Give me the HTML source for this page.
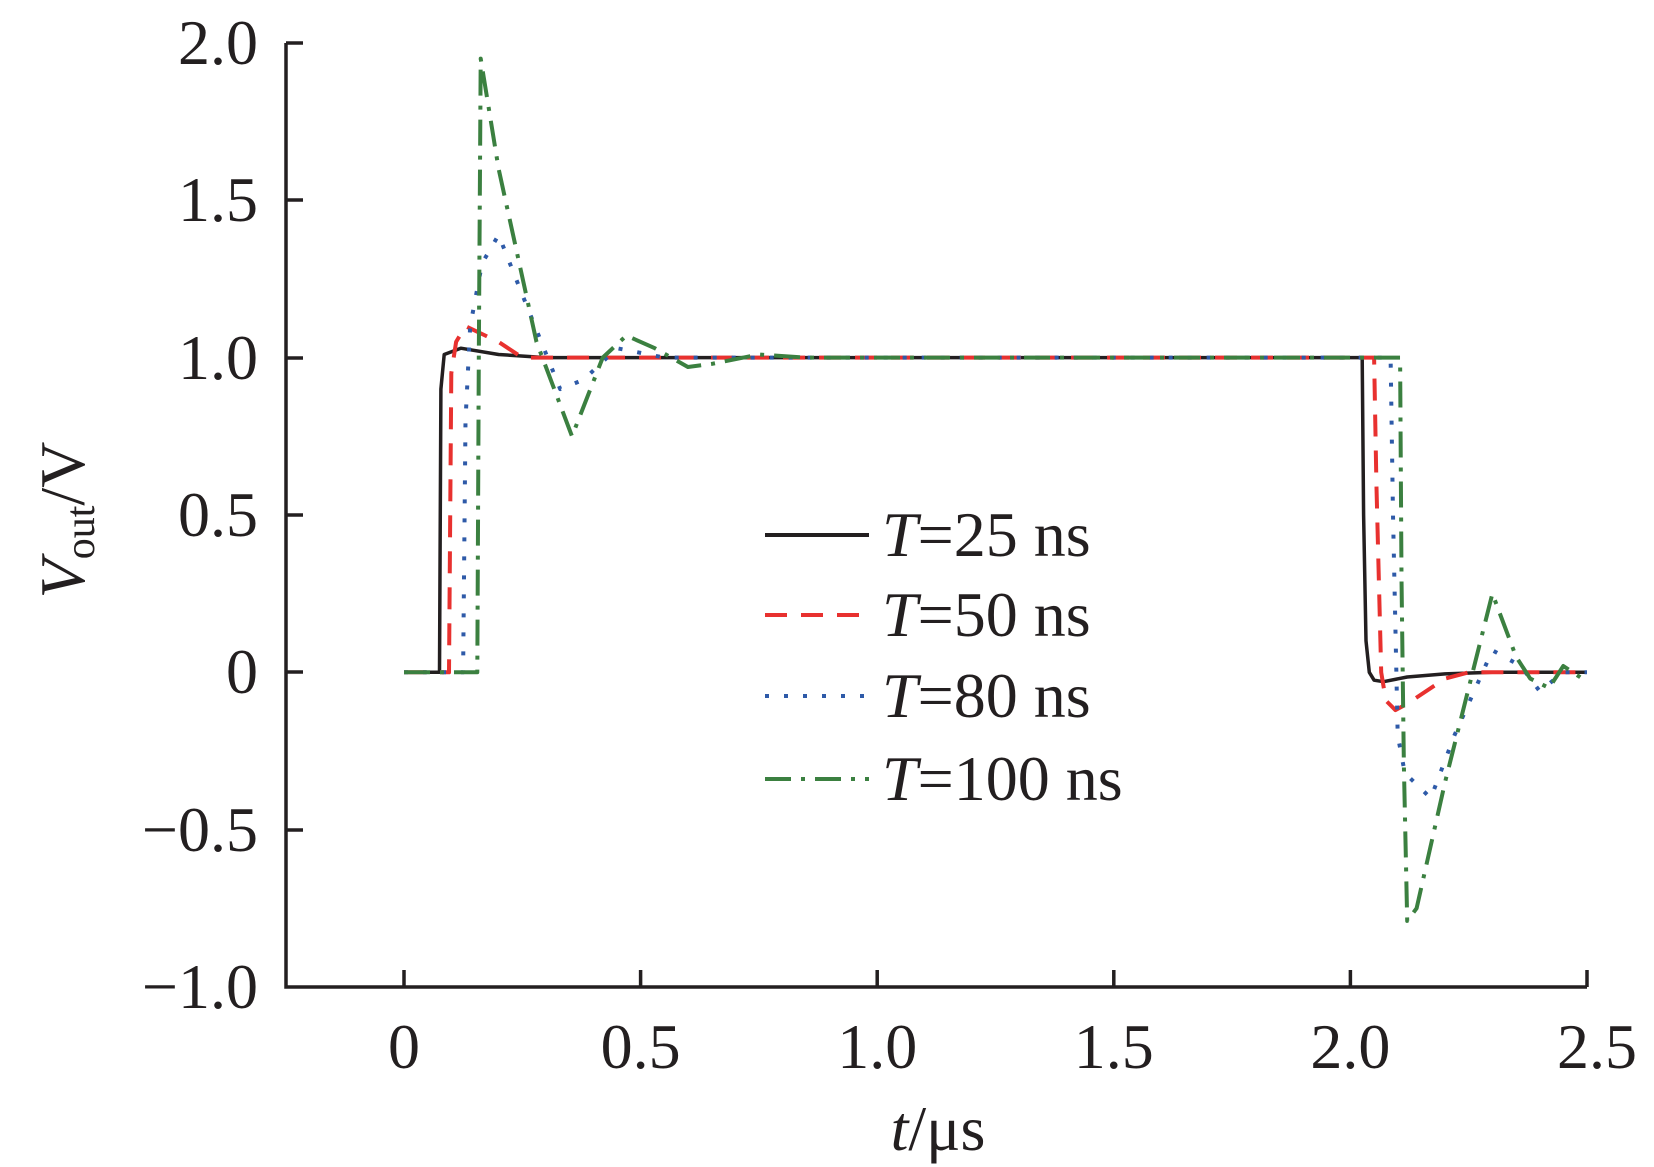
<!DOCTYPE html>
<html><head><meta charset="utf-8"><style>
html,body{margin:0;padding:0;background:#fff;}
svg{display:block;}
text{font-family:"Liberation Serif",serif;fill:#231f20;}
</style></head><body>
<svg id="s" width="1654" height="1167" viewBox="0 0 1654 1167" xmlns="http://www.w3.org/2000/svg">
<g stroke="#231f20" stroke-width="3.5" fill="none">
<path d="M286,43 V987 H1587"/>
<path d="M286,43 H303 M286,200 H303 M286,358 H303 M286,515 H303 M286,672 H303 M286,830 H303"/>
<path d="M404,987 V970 M640.6,987 V970 M877.2,987 V970 M1113.8,987 V970 M1350.4,987 V970 M1587,987 V970"/>
</g>
<g font-size="64" text-anchor="end">
<text x="258" y="64">2.0</text>
<text x="258" y="221">1.5</text>
<text x="258" y="379">1.0</text>
<text x="258" y="536">0.5</text>
<text x="258" y="693">0</text>
<text x="258" y="851">−0.5</text>
<text x="258" y="1008">−1.0</text>
</g>
<g font-size="64" text-anchor="middle">
<text x="404" y="1068">0</text>
<text x="640.6" y="1068">0.5</text>
<text x="877.2" y="1068">1.0</text>
<text x="1113.8" y="1068">1.5</text>
<text x="1350.4" y="1068">2.0</text>
<text x="1597" y="1068">2.5</text>
</g>
<text x="938" y="1150" font-size="64" text-anchor="middle"><tspan font-style="italic">t</tspan>/μs</text>
<text transform="translate(84,520) rotate(-90)" font-size="64" text-anchor="middle"><tspan font-style="italic">V</tspan><tspan font-size="42" dy="10">out</tspan><tspan dy="-10">/V</tspan></text>
<g id="series"></g>
<g stroke-width="4" fill="none">
<line x1="765" y1="535" x2="869" y2="535" stroke="#231f20"/>
<line x1="765" y1="615" x2="869" y2="615" stroke="#e8312f" stroke-dasharray="22,14"/>
<line x1="765" y1="696" x2="869" y2="696" stroke="#2e5aa8" stroke-dasharray="4,15"/>
<line x1="765" y1="779" x2="869" y2="779" stroke="#3b8040" stroke-dasharray="26,10,4,10"/>
</g>
<g font-size="64">
<text x="882" y="556"><tspan font-style="italic">T</tspan>=25 ns</text>
<text x="882" y="636"><tspan font-style="italic">T</tspan>=50 ns</text>
<text x="882" y="717"><tspan font-style="italic">T</tspan>=80 ns</text>
<text x="882" y="800"><tspan font-style="italic">T</tspan>=100 ns</text>
</g>
</svg>
<script>
var X=function(t){return 404+t*473.2},Y=function(v){return 672.3-v*314.7};
var S=[
 {c:"#231f20",d:"",w:3.5,p:[[0,0],[0.075,0],[0.078,0.9],[0.085,1.01],[0.12,1.03],[0.2,1.01],[0.3,1.0],[2.025,1.0],[2.028,0.5],[2.033,0.1],[2.04,0.0],[2.05,-0.025],[2.07,-0.03],[2.12,-0.015],[2.2,-0.005],[2.3,0],[2.5,0]]},
 {c:"#e8312f",d:"22,14",w:4,p:[[0,0],[0.095,0],[0.1,0.95],[0.11,1.05],[0.13,1.1],[0.2,1.05],[0.25,1.0],[2.05,1.0],[2.055,0.6],[2.065,0.0],[2.075,-0.09],[2.095,-0.12],[2.12,-0.1],[2.2,-0.02],[2.25,0],[2.5,0]]},
 {c:"#2e5aa8",d:"4,15",w:4,p:[[0,0],[0.125,0],[0.13,0.8],[0.14,1.1],[0.165,1.3],[0.2,1.39],[0.25,1.2],[0.33,0.9],[0.38,0.93],[0.45,1.03],[0.55,1.0],[2.085,1.0],[2.09,0.5],[2.1,-0.2],[2.115,-0.32],[2.17,-0.4],[2.22,-0.2],[2.3,0.07],[2.36,0.02],[2.4,-0.06],[2.45,0],[2.5,0]]},
 {c:"#3b8040",d:"26,10,4,10",w:4,p:[[0,0],[0.155,0],[0.158,1.0],[0.162,1.95],[0.2,1.6],[0.28,1.05],[0.355,0.75],[0.42,1.0],[0.47,1.07],[0.53,1.03],[0.6,0.97],[0.65,0.98],[0.75,1.01],[0.85,1.0],[2.105,1.0],[2.108,0.3],[2.113,-0.3],[2.12,-0.79],[2.14,-0.75],[2.2,-0.35],[2.3,0.25],[2.35,0.05],[2.38,-0.02],[2.42,-0.05],[2.45,0.02],[2.5,-0.03]]}
];
var g=document.getElementById("series"),ns="http://www.w3.org/2000/svg";
S.forEach(function(s){var e=document.createElementNS(ns,"polyline");
e.setAttribute("points",s.p.map(function(q){return X(q[0]).toFixed(1)+","+Y(q[1]).toFixed(1)}).join(" "));
e.setAttribute("fill","none");e.setAttribute("stroke",s.c);e.setAttribute("stroke-width",s.w);
e.setAttribute("stroke-linejoin","round");if(s.d)e.setAttribute("stroke-dasharray",s.d);g.appendChild(e);});
</script>
</body></html>
